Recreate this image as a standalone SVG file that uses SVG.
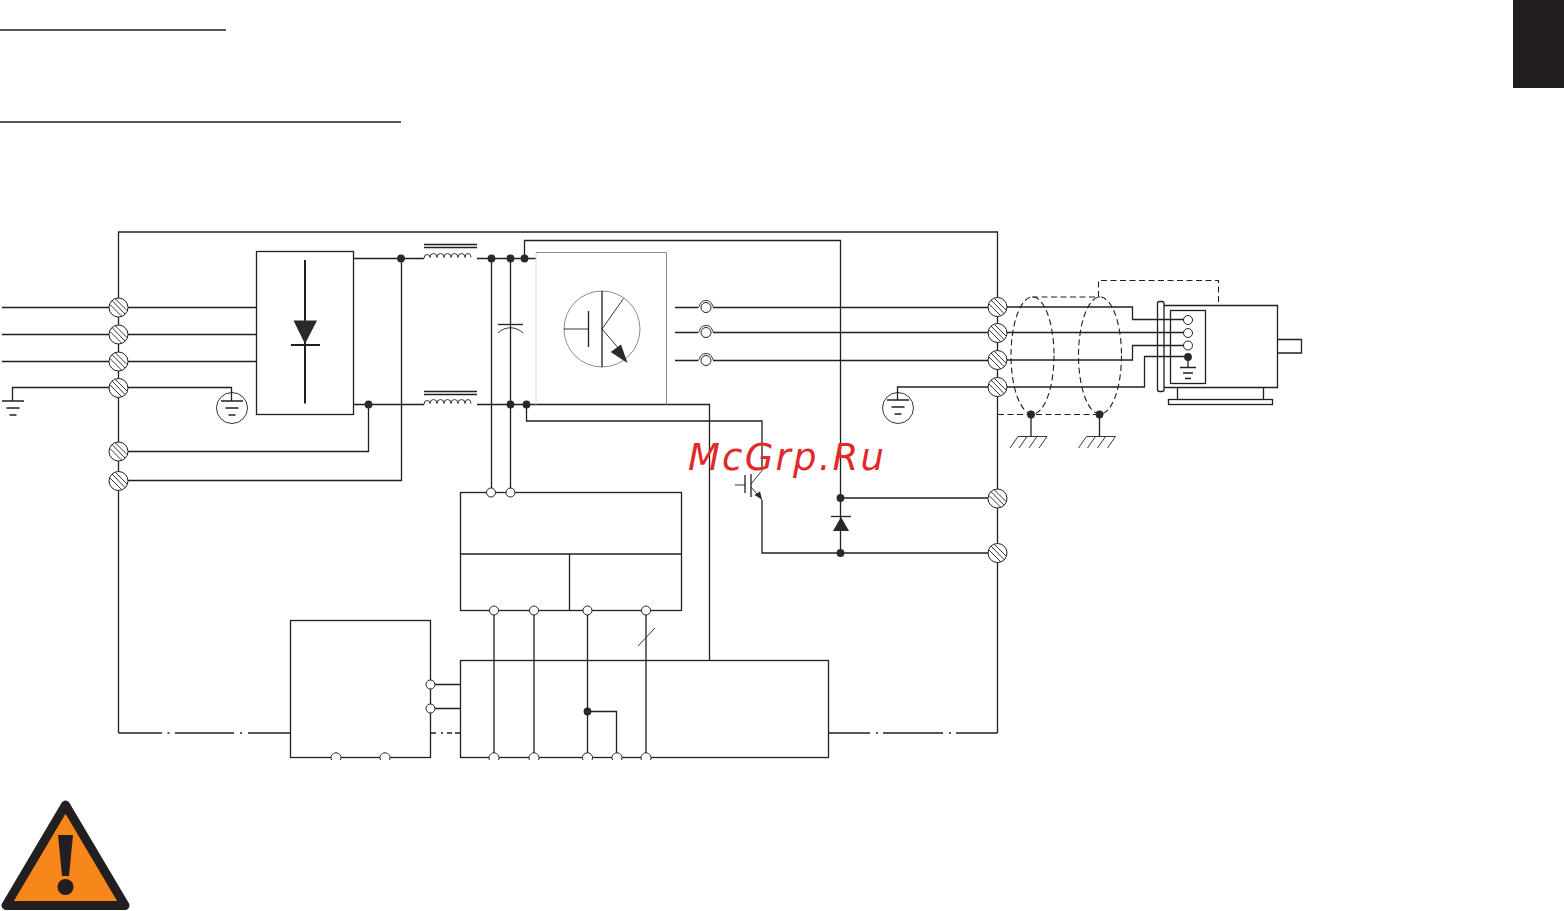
<svg xmlns="http://www.w3.org/2000/svg" xmlns:xlink="http://www.w3.org/1999/xlink" width="1564" height="911" viewBox="0 0 1564 911">
<style>
.w{fill:none;stroke:#231f20;stroke-width:1.3}
.t{fill:none;stroke:#231f20;stroke-width:.9}
.b{fill:#fff;stroke:#231f20;stroke-width:1.3}
.d{fill:none;stroke:#231f20;stroke-width:1.1;stroke-dasharray:6 3.5}
.k{fill:#2b282a;stroke:none}
.o{fill:#fff;stroke:#231f20;stroke-width:1}
.g{fill:none;stroke:#8c8c8c;stroke-width:1}
</style>
<defs>
<g id="term"><circle r="9.5" class="o"/><path class="t" d="M-6.5-7 6.5 6.5M-8.5-3 3 8.5M-3-8.5 8.5 3"/></g>
<circle id="dot" r="3.9" class="k"/>
<circle id="ring" r="4.5" class="o"/>
<path id="semi" d="M-4.5 760A5 5 0 1 1 4.5 760" class="o"/>
<g id="earth"><path class="w" d="M-11 0H11M-6.500 7H6.500M-3.500 14H3.500"/></g>
<g id="chassis"><path class="w" d="M0 0V22"/><path class="t" d="M-13 22H16M-13 22-21 33.500M-4 22-12 33.500M6 22-2 33.500M16 22 8 33.500"/></g>
<g id="fuse"><path class="t" d="M-8 0C-6 0-7-7 0-7S6 0 8 0"/><circle r="5" class="o"/></g>
</defs>
<rect width="1564" height="911" fill="#fff"/>
<g id="page">
<path class="w" d="M0 30H226M0 122H401"/>
<rect x="1513" y="0" width="51" height="88" fill="#231f20"/>
</g>
<g id="connectors">
<path class="w" d="M118.500 733V232H997.500V733"/>
<path class="w" d="M2 307.500H256M2 334.500H256M2 361.500H256"/>
<path class="w" d="M12.500 401V387.500H231.500V401"/>
<path class="w" d="M118.500 451.500H368.500V404.500M118.500 480.500H401.500V258.500"/>
<path class="w" d="M353 258.500H424M477 258.500H536M353 404.500H424M477 404.500H709.500V660"/>
<path class="w" d="M491.500 258.500V492M510.500 258.500V492"/>
<path class="w" d="M524.500 258.500V240.500H840.500V553"/>
<path class="w" d="M526.500 404.500V421H762V470.500M762 500V553H997M840.500 498H997"/>
<path class="w" d="M675 307.500H698M713 307.500H997M675 332.500H698M713 332.500H997M675 360.500H698M713 360.500H997"/>
<path class="w" d="M997.500 307H1132.500V319.500H1184M997.500 332.500H1184M997.500 360H1132.500V345.500H1184M897.500 400V387H1144.500V356.500H1188"/>
<path class="w" d="M494 610V757M534 610V757M587.500 610V757M646 610V757M587.500 711.500H616.500V757"/>
<path class="t" d="M638 646 655 628"/>
<path class="w" d="M430.500 684.500H460M430.500 708.500H460"/>
<path class="w" d="M118.500 733H162M167.500 733H169.500M175 733H234M240 733H242M248 733H290M431 733H436M441 733H443M447 733H452M455 733H460M829 733H870M876 733H878M883 733H943M949 733H951M956 733H997.500"/>
<path class="d" d="M998 414.500H1100M1032 297H1100M1098.500 297V280.500H1218.500V305"/>
<ellipse class="d" cx="1032.500" cy="355.500" rx="21.500" ry="58.500"/>
<ellipse class="d" cx="1100" cy="355.500" rx="21.500" ry="58.500"/>
</g>
<g id="rectifier">
<rect class="w" x="256.500" y="251.500" width="97" height="163"/>
<path d="M305 260V403.500M291 345H320" fill="none" stroke="#231f20" stroke-width="2"/>
<path class="k" d="M293.500 320.500H317L305 344Z"/>
</g>
<g id="mains-terminals">
<use xlink:href="#term" href="#term" x="118.500" y="307.500"/>
<use xlink:href="#term" href="#term" x="118.500" y="334.500"/>
<use xlink:href="#term" href="#term" x="118.500" y="361.500"/>
<use xlink:href="#term" href="#term" x="118.500" y="388"/>
<use xlink:href="#term" href="#term" x="118.500" y="451.500"/>
<use xlink:href="#term" href="#term" x="118.500" y="481"/>
</g>
<g id="earth-left">
<use xlink:href="#earth" href="#earth" x="13" y="401"/>
<circle class="t" cx="232" cy="408" r="15.500"/>
<use xlink:href="#earth" href="#earth" x="232" y="401"/>
</g>
<g id="chokes">
<path class="t" d="M424 258.500q0-4 3-4t3 3q0-4 3.500-4t3.500 4q0-4 3.500-4t3.500 4q0-4 3.500-4t3.500 4q0-4 3.500-4t3.500 4q0-4 3.500-4t3.500 4q0-4 3-4t3 4"/>
<path class="t" d="M424 404.500q0-4 3-4t3 3q0-4 3.500-4t3.500 4q0-4 3.500-4t3.500 4q0-4 3.500-4t3.500 4q0-4 3.500-4t3.500 4q0-4 3.500-4t3.500 4q0-4 3-4t3 4"/>
<path class="w" d="M424 244.500H477M424 247.500H477M424 391.500H477M424 394.500H477"/>
</g>
<g id="capacitor">
<path class="w" d="M498 324.500H523"/>
<path class="t" d="M498 333C505 326 516 326 523 333"/>
</g>
<g id="dc-dots">
<use xlink:href="#dot" href="#dot" x="401" y="258.500"/>
<use xlink:href="#dot" href="#dot" x="368.500" y="404.500"/>
<use xlink:href="#dot" href="#dot" x="491.500" y="258.500"/>
<use xlink:href="#dot" href="#dot" x="510.500" y="258.500"/>
<use xlink:href="#dot" href="#dot" x="524.500" y="258.500"/>
<use xlink:href="#dot" href="#dot" x="510.500" y="404.500"/>
<use xlink:href="#dot" href="#dot" x="526.500" y="404.500"/>
<use xlink:href="#dot" href="#dot" x="840.500" y="498"/>
<use xlink:href="#dot" href="#dot" x="840.500" y="553"/>
</g>
<g id="inverter">
<path d="M536 252.500V404.500" stroke="#d8d8d8" stroke-width="1" fill="none"/>
<path class="g" d="M536 252.500H666.500V404.500"/>
<circle class="g" cx="602" cy="329" r="38"/>
<path class="w" d="M602 291V367M588.500 311V347"/>
<path class="t" d="M564 329H588.500M602 329 623.500 298.500M602 329 620 350"/>
<path class="k" d="M610.700 352 621 344.500 627.500 363Z"/>
</g>
<g id="output-fuses">
<use xlink:href="#fuse" href="#fuse" x="706" y="307.500"/>
<use xlink:href="#fuse" href="#fuse" x="706" y="332.500"/>
<use xlink:href="#fuse" href="#fuse" x="706" y="360.500"/>
</g>
<g id="brake-chopper">
<path class="w" d="M745 475V493M751 474V497"/>
<path class="t" d="M735 485H745M762 470.500 751 484M751 487 762 500"/>
<path class="k" d="M754.500 495 760 491.500 762 499.500Z"/>
<path class="k" d="M833 531H849L841 517Z"/>
<path class="w" d="M831 516.500H851"/>
</g>
<g id="motor-terminals">
<use xlink:href="#term" href="#term" x="997.500" y="307"/>
<use xlink:href="#term" href="#term" x="997.500" y="333"/>
<use xlink:href="#term" href="#term" x="997.500" y="360"/>
<use xlink:href="#term" href="#term" x="997.500" y="387"/>
<use xlink:href="#term" href="#term" x="997.500" y="498.500"/>
<use xlink:href="#term" href="#term" x="997.500" y="553"/>
</g>
<g id="earth-right">
<circle class="t" cx="898" cy="408" r="15.500"/>
<use xlink:href="#earth" href="#earth" x="898" y="400"/>
</g>
<g id="shield-earth">
<use xlink:href="#chassis" href="#chassis" x="1031" y="414.500"/>
<use xlink:href="#chassis" href="#chassis" x="1099.500" y="414.500"/>
<use xlink:href="#dot" href="#dot" x="1031" y="414.500"/>
<use xlink:href="#dot" href="#dot" x="1099.500" y="414.500"/>
</g>
<g id="motor">
<path class="w" d="M1164 305.500H1277.500V387.500H1164M1277.500 339.500H1301.500V353H1277.500"/>
<path class="w" d="M1177.500 387.500V399M1263.500 387.500V399"/>
<rect class="w" x="1168.500" y="399.500" width="104" height="5"/>
<rect class="w" x="1157.500" y="301.500" width="6.500" height="90" rx="2"/>
<rect class="w" x="1170.500" y="310.500" width="35" height="73"/>
<path class="w" d="M1188 357V367"/>
<use xlink:href="#ring" href="#ring" x="1188" y="320"/>
<use xlink:href="#ring" href="#ring" x="1188" y="333"/>
<use xlink:href="#ring" href="#ring" x="1188" y="345.500"/>
<use xlink:href="#dot" href="#dot" x="1188" y="357"/>
<path class="w" d="M1180 367.500H1196M1183 373H1193M1185 378.500H1191"/>
</g>
<g id="dc-supply">
<rect class="w" x="460.500" y="492.500" width="221" height="118"/>
<path class="w" d="M460.500 554H681.500M569.500 554V610"/>
<use xlink:href="#ring" href="#ring" x="491" y="492.500"/>
<use xlink:href="#ring" href="#ring" x="510.500" y="492.500"/>
<use xlink:href="#ring" href="#ring" x="494" y="610.500"/>
<use xlink:href="#ring" href="#ring" x="534" y="610.500"/>
<use xlink:href="#ring" href="#ring" x="587.500" y="610.500"/>
<use xlink:href="#ring" href="#ring" x="646" y="610.500"/>
</g>
<g id="control-unit">
<rect class="w" x="460.500" y="660.500" width="368" height="97"/>
<use xlink:href="#dot" href="#dot" x="587.500" y="711.500"/>
<use xlink:href="#semi" href="#semi" x="494"/>
<use xlink:href="#semi" href="#semi" x="534"/>
<use xlink:href="#semi" href="#semi" x="587.500"/>
<use xlink:href="#semi" href="#semi" x="617"/>
<use xlink:href="#semi" href="#semi" x="646"/>
</g>
<g id="option-box">
<rect class="w" x="290.500" y="620.500" width="140" height="137"/>
<use xlink:href="#ring" href="#ring" x="430.500" y="684.500"/>
<use xlink:href="#ring" href="#ring" x="430.500" y="708.500"/>
<use xlink:href="#semi" href="#semi" x="336"/>
<use xlink:href="#semi" href="#semi" x="385"/>
</g>
<g id="warning">
<path d="M65.500 805 6 905.500H125Z" fill="#f7861b" stroke="#231f20" stroke-width="9" stroke-linejoin="round"/>
<path d="M58 835H73L69 876H62Z" fill="#231f20"/>
<circle cx="65.500" cy="887" r="8" fill="#231f20"/>
</g>
<text id="watermark" x="688" y="470" font-family="'DejaVu Sans',sans-serif" font-style="italic" font-size="37" letter-spacing="2.2" fill="#e02a2a">McGrp.Ru</text>
</svg>
